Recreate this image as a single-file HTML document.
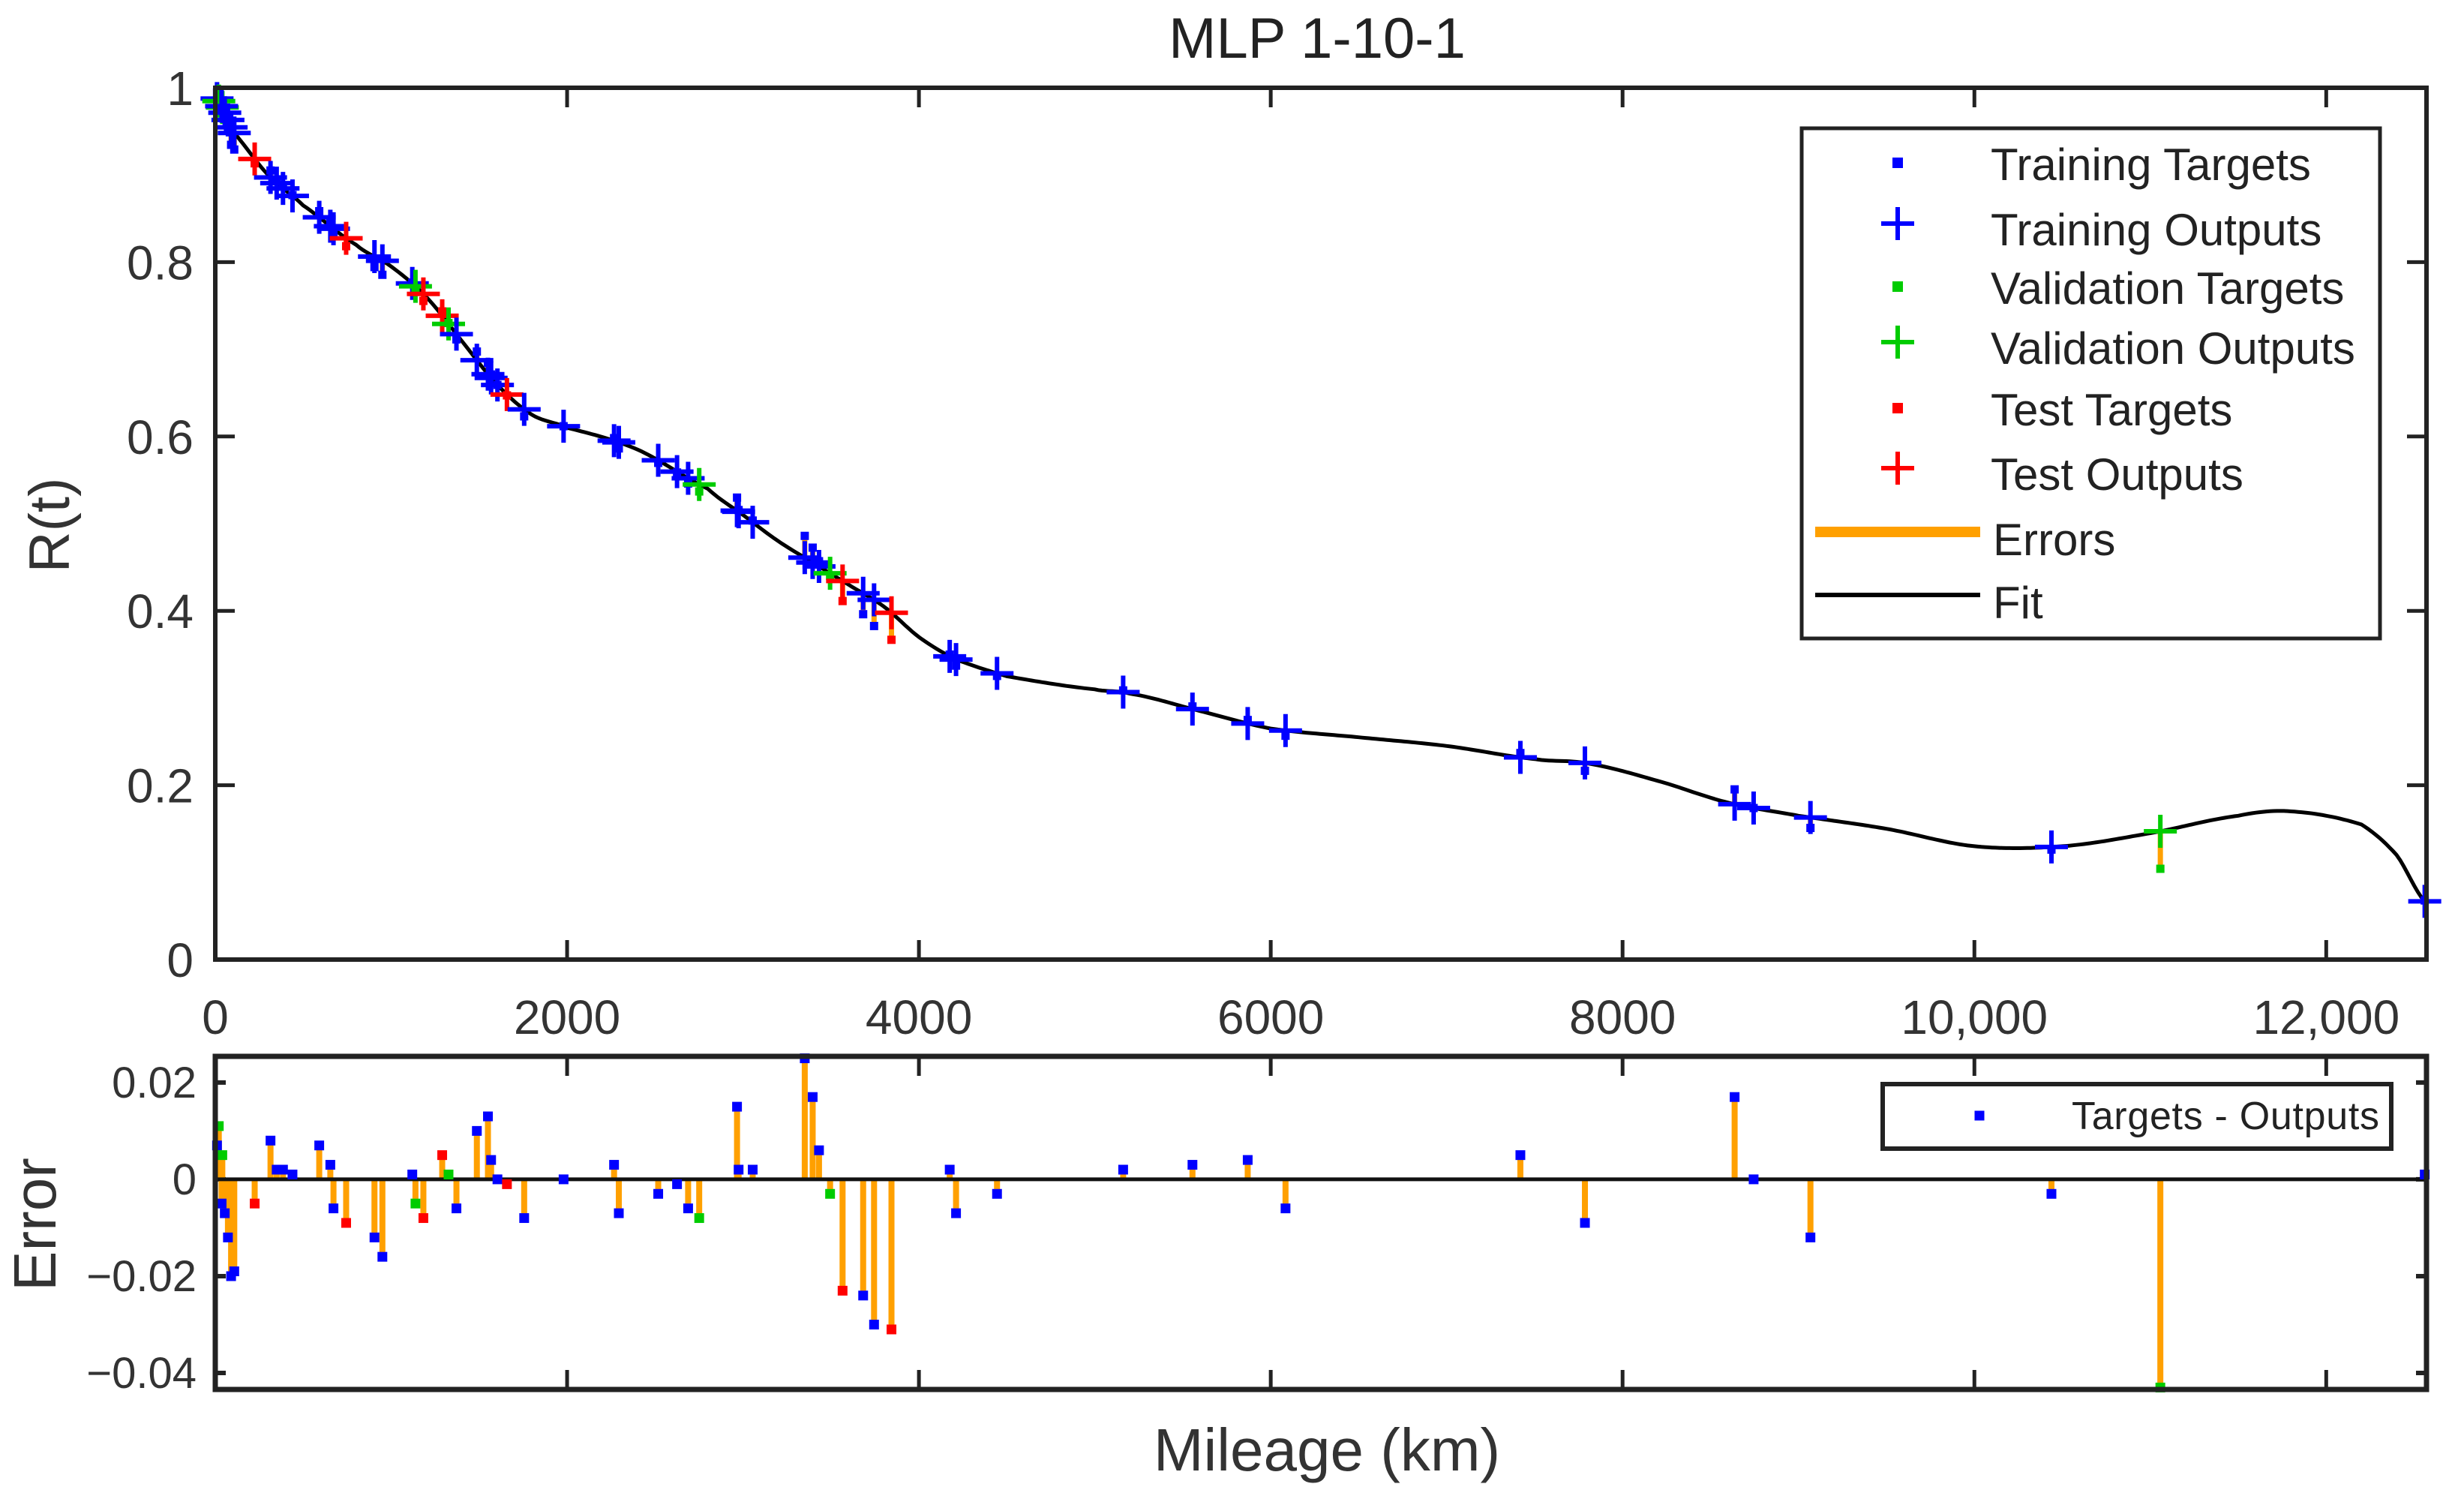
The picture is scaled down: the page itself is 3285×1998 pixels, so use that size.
<!DOCTYPE html>
<html><head><meta charset="utf-8"><style>
html,body{margin:0;padding:0;background:#fff;}
svg{display:block;font-family:"Liberation Sans",Arial,sans-serif;}
</style></head><body>
<svg id="chart" width="3285" height="1998" viewBox="0 0 3285 1998" xmlns="http://www.w3.org/2000/svg">
<rect width="3285" height="1998" fill="#fff"/>
<text x="1756" y="77" font-size="76" text-anchor="middle" fill="#222">MLP 1-10-1</text>
<g id="topplot"></g>
<g id="botplot"></g>
<text transform="translate(92,700) rotate(-90)" font-size="76" text-anchor="middle" fill="#333">R(t)</text>
<text transform="translate(74,1632) rotate(-90)" font-size="80" text-anchor="middle" fill="#333">Error</text>
<text x="1769" y="1960" font-size="80" text-anchor="middle" fill="#333">Mileage (km)</text>
</svg>
<script>
// Fit curve knots (km, R)
const fitKm = [0,100,300,500,800,1000,1200,1400,1600,1800,2000,2400,2800,3000,3200,3400,3600,3800,4000,4200,4500,5000,5200,5600,6000,6500,7000,7500,7800,8200,8600,9000,9500,10000,10500,11000,11500,11800,12200,12400,12570];
const fitR  = [0.99,0.95,0.9,0.865,0.82,0.795,0.76,0.71,0.66,0.625,0.61,0.585,0.54,0.51,0.48,0.455,0.43,0.405,0.37,0.345,0.325,0.31,0.305,0.285,0.265,0.255,0.245,0.23,0.225,0.205,0.18,0.165,0.15,0.13,0.13,0.145,0.165,0.17,0.155,0.12,0.065];
// Sample mileages, errors (target - output), and set membership
const sampleKm = [10,20,40,36,54,72,90,108,224,314,349,385,439,591,654,672,744,905,950,1120,1138,1183,1290,1326,1371,1487,1550,1568,1604,1658,1756,1980,2267,2294,2518,2625,2688,2751,2966,2975,3055,3351,3396,3432,3495,3566,3683,3745,3844,4175,4211,4444,5161,5555,5869,6084,7419,7786,8637,8745,9068,10438,11057,12560];
const sampleErr = [0.007,0.011,0.005,-0.005,-0.007,-0.012,-0.02,-0.019,-0.005,0.008,0.002,0.002,0.001,0.007,0.003,-0.006,-0.009,-0.012,-0.016,0.001,-0.005,-0.008,0.005,0.001,-0.006,0.01,0.013,0.004,0.0,-0.001,-0.008,0.0,0.003,-0.007,-0.003,-0.001,-0.006,-0.008,0.015,0.002,0.002,0.025,0.017,0.006,-0.003,-0.023,-0.024,-0.03,-0.031,0.002,-0.007,-0.003,0.002,0.003,0.004,-0.006,0.005,-0.009,0.017,0.0,-0.012,-0.003,-0.043,0.001];
const sampleSet = ["tr","va","va","tr","tr","tr","tr","tr","te","tr","tr","tr","tr","tr","tr","tr","te","tr","tr","tr","va","te","te","va","tr","tr","tr","tr","tr","te","tr","tr","tr","tr","tr","tr","tr","va","tr","tr","tr","tr","tr","tr","va","te","tr","tr","te","tr","tr","tr","tr","tr","tr","tr","tr","tr","tr","tr","tr","tr","va","tr"];
const xTicks = [0,2000,4000,6000,8000,10000,12000];
const xTickLabels = ["0","2000","4000","6000","8000","10,000","12,000"];
const yTicks = [0,0.2,0.4,0.6,0.8,1];
const yTickLabels = ["0","0.2","0.4","0.6","0.8","1"];
const eTicks = [-0.04,-0.02,0,0.02];
const eTickLabels = ["\u22120.04","\u22120.02","0","0.02"];

const NS="http://www.w3.org/2000/svg";
const COL={tr:"#0000ff",va:"#00cc00",te:"#ff0000"};
const XL=287, XR=3235, XMAX=12570;
const TT=117, TB=1279;
const BT=1408, BB=1852, EMAX=0.0254, EMIN=-0.0434;
const xs=v=>XL+(v/XMAX)*(XR-XL);
const ys=v=>TB-v*(TB-TT);
const es=v=>BB-(v-EMIN)/(EMAX-EMIN)*(BB-BT);
function el(tag,attrs,parent){const e=document.createElementNS(NS,tag);for(const k in attrs)e.setAttribute(k,attrs[k]);parent.appendChild(e);return e;}
function fitAt(k){
  let i=0;while(i<fitKm.length-2&&k>fitKm[i+1])i++;
  const p0=fitR[Math.max(i-1,0)],p1=fitR[i],p2=fitR[i+1],p3=fitR[Math.min(i+2,fitR.length-1)];
  const t=Math.max(0,Math.min(1,(k-fitKm[i])/(fitKm[i+1]-fitKm[i])));
  return 0.5*((2*p1)+(-p0+p2)*t+(2*p0-5*p1+4*p2-p3)*t*t+(-p0+3*p1-3*p2+p3)*t*t*t);
}
const topG=document.getElementById('topplot'), botG=document.getElementById('botplot');
function plus(g,x,y,c,s){
  const p=el('path',{d:`M${x-s} ${y}H${x+s}M${x} ${y-s}V${y+s}`,stroke:c,'stroke-width':6,fill:'none'},g);
  
  
}
function dot(g,x,y,c,s){
  const r=el('rect',{x:x-s/2,y:y-s/2,width:s,height:s,fill:c},g);
  
  
}
xTicks.forEach((t,i)=>{
  const x=xs(t);
  el('path',{d:`M${x} ${TB}v-26M${x} ${TT}v26`,stroke:'#222','stroke-width':5},topG);
  const tx=el('text',{x:x,y:1378,'font-size':64,'text-anchor':'middle',fill:'#333'},topG);
  tx.textContent=xTickLabels[i];
  
  
});
yTicks.forEach((t,i)=>{
  const y=ys(t);
  el('path',{d:`M${XL} ${y}h26M${XR} ${y}h-26`,stroke:'#222','stroke-width':5},topG);
  const tx=el('text',{x:258,y:y+23,'font-size':64,'text-anchor':'end',fill:'#333'},topG);
  tx.textContent=yTickLabels[i];
  
  
});
sampleKm.forEach((k,i)=>{
  const o=fitAt(k), t=o+sampleErr[i];
  el('line',{x1:xs(k),x2:xs(k),y1:ys(o),y2:ys(t),stroke:'#ffa000','stroke-width':7},topG);
});
let d='';for(let k=0;k<=XMAX;k+=20){d+=(k?'L':'M')+xs(k).toFixed(1)+' '+ys(fitAt(k)).toFixed(1);}
const fl=el('path',{d:d,stroke:'#000','stroke-width':5,fill:'none'},topG);


sampleKm.forEach((k,i)=>{
  const o=fitAt(k), t=o+sampleErr[i], c=COL[sampleSet[i]]||COL.tr;
  dot(topG,xs(k),ys(t),c,11);
  plus(topG,xs(k),ys(o),c,22);
});
el('path',{d:`M${XL} ${TT}V${TB}H${XR}V${TT}Z`,stroke:'#222','stroke-width':6,fill:'none'},topG);
const lg=el('g',{},topG);


el('rect',{x:2402,y:171,width:771,height:680,fill:'#fff',stroke:'#222','stroke-width':5},lg);
const legLabels=["Training Targets","Training Outputs","Validation Targets","Validation Outputs","Test Targets","Test Outputs","Errors","Fit"];
const legY=[223,310,388,468,550,636,723,807];
legLabels.forEach((s,i)=>{
  const y=legY[i];
  const c=[COL.tr,COL.tr,COL.va,COL.va,COL.te,COL.te][i];
  if(i<6){ if(i%2===0) dot(lg,2530,y-6,c,14); else plus(lg,2530,y-12,c,22); }
  else el('line',{x1:2420,x2:2640,y1:y-14,y2:y-14,stroke:i===6?'#ffa000':'#000','stroke-width':i===6?14:6},lg);
  const tx=el('text',{x:i>=6?2657:2654,y:y+17,'font-size':60,fill:'#222'},lg);
  tx.textContent=s;
  
  
});
xTicks.forEach(t=>{const x=xs(t);el('path',{d:`M${x} ${BB}v-26M${x} ${BT}v26`,stroke:'#222','stroke-width':5},botG);});
eTicks.forEach((t,i)=>{
  const y=es(t);
  el('path',{d:`M${XL} ${y}h14M${XR} ${y}h-14`,stroke:'#222','stroke-width':6},botG);
  const tx=el('text',{x:262,y:y+20,'font-size':58,'text-anchor':'end',fill:'#333'},botG);
  tx.textContent=eTickLabels[i];
  
  
});
sampleKm.forEach((k,i)=>{
  const b=el('line',{x1:xs(k),x2:xs(k),y1:es(0),y2:es(sampleErr[i]),stroke:'#ffa000','stroke-width':8},botG);
  
  
});
el('line',{x1:XL,x2:XR,y1:es(0),y2:es(0),stroke:'#111','stroke-width':5},botG);
sampleKm.forEach((k,i)=>{ dot(botG,xs(k),es(sampleErr[i]),COL[sampleSet[i]]||COL.tr,13); });
el('rect',{x:XL,y:BT,width:XR-XL,height:BB-BT,fill:'none',stroke:'#222','stroke-width':7},botG);
const lg2=el('g',{},botG);


el('rect',{x:2510,y:1445,width:678,height:86,fill:'#fff',stroke:'#222','stroke-width':6},lg2);
dot(lg2,2639,1487,COL.tr,13);
const t2=el('text',{x:2762,y:1505,'font-size':52,fill:'#222',textLength:410},lg2);
t2.textContent="Targets - Outputs";


</script>
</body></html>
